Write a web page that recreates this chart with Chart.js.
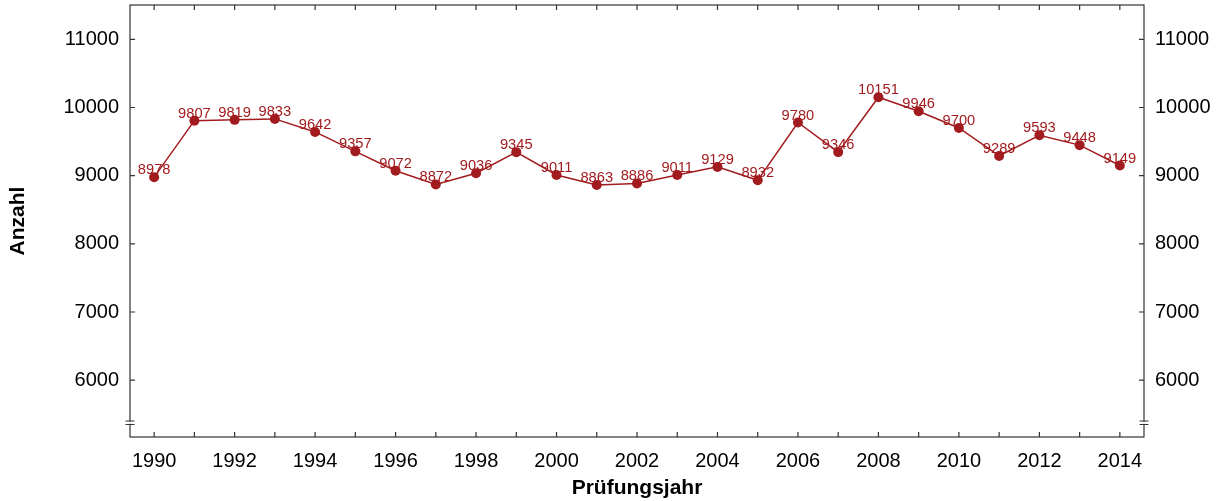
<!DOCTYPE html>
<html>
<head>
<meta charset="utf-8">
<script src="https://cdn.jsdelivr.net/npm/chart.js@4"></script>
<style>
  html, body { margin: 0; padding: 0; background: #fff; }
  #wrap { width: 1224px; height: 501px; }
</style>
</head>
<body>
<div id="wrap"><canvas id="anzahlChart" width="1224" height="501"></canvas></div>
<script>
const years = [1990, 1991, 1992, 1993, 1994, 1995, 1996, 1997, 1998, 1999, 2000, 2001, 2002,
               2003, 2004, 2005, 2006, 2007, 2008, 2009, 2010, 2011, 2012, 2013, 2014];
const anzahl = [8978, 9807, 9819, 9833, 9642, 9357, 9072, 8872, 9036, 9345, 9011, 8863, 8886,
                9011, 9129, 8932, 9780, 9346, 10151, 9946, 9700, 9289, 9593, 9448, 9149];
const xTickLabels = [1990, 1992, 1994, 1996, 1998, 2000, 2002, 2004, 2006, 2008, 2010, 2012, 2014];
const yTickLabels = [6000, 7000, 8000, 9000, 10000, 11000];

const red = '#a21c1f';
const axisCol = '#333';

// Rahmen, nach innen zeigende Ticks und Achsenbruch
const framePlugin = {
    id: 'frame',
    afterDraw(chart) {
        const { ctx, chartArea: a, scales } = chart;
        ctx.save();
        ctx.strokeStyle = axisCol;
        ctx.lineWidth = 1.2;
        ctx.strokeRect(a.left, a.top, a.right - a.left, a.bottom - a.top);
        ctx.beginPath();
        years.forEach(y => {
            const px = scales.x.getPixelForValue(y);
            ctx.moveTo(px, a.bottom); ctx.lineTo(px, a.bottom - 5);
            ctx.moveTo(px, a.top); ctx.lineTo(px, a.top + 5);
        });
        yTickLabels.forEach(v => {
            const py = scales.y.getPixelForValue(v);
            ctx.moveTo(a.left, py); ctx.lineTo(a.left + 5, py);
            ctx.moveTo(a.right, py); ctx.lineTo(a.right - 5, py);
        });
        ctx.stroke();
        // Achsenbruch
        const b1 = a.bottom - 16, b2 = a.bottom - 12.5;
        [a.left, a.right].forEach(x => {
            ctx.fillStyle = '#fff';
            ctx.fillRect(x - 2, b1 + 0.8, 4, b2 - b1 - 1.6);
            ctx.beginPath();
            ctx.moveTo(x - 4.5, b1); ctx.lineTo(x + 4.5, b1);
            ctx.moveTo(x - 4.5, b2); ctx.lineTo(x + 4.5, b2);
            ctx.stroke();
        });
        ctx.restore();
    }
};

// Werte ueber den Punkten
const labelPlugin = {
    id: 'valueLabels',
    afterDatasetsDraw(chart) {
        const ctx = chart.ctx;
        const meta = chart.getDatasetMeta(0);
        ctx.save();
        ctx.font = '14.7px "Liberation Sans", Arial, sans-serif';
        ctx.fillStyle = red;
        ctx.textAlign = 'center';
        ctx.textBaseline = 'alphabetic';
        meta.data.forEach((p, i) => {
            ctx.fillText(String(anzahl[i]), p.x, p.y - 3);
        });
        ctx.restore();
    }
};

const tickFont = { family: '"Liberation Sans", Arial, sans-serif', size: 20 };
const titleFont = { family: '"Liberation Sans", Arial, sans-serif', size: 21, weight: 'bold' };

function fixY(width) {
    return s => {
        s.width = width;
        s.paddingTop = 0;
        s.paddingBottom = 0;
    };
}

const ctx = document.getElementById('anzahlChart').getContext('2d');
const anzahlChart = new Chart(ctx, {
    type: 'line',
    data: {
        datasets: [{
            data: years.map((y, i) => ({ x: y, y: anzahl[i] })),
            borderColor: red,
            backgroundColor: red,
            borderWidth: 1.5,
            pointRadius: 5,
            pointHoverRadius: 5,
            pointBorderWidth: 0,
            tension: 0
        }]
    },
    options: {
        responsive: false,
        animation: false,
        layout: { padding: { top: 5, left: 0, right: 0, bottom: 0 } },
        plugins: {
            legend: { display: false },
            tooltip: { enabled: false }
        },
        scales: {
            x: {
                type: 'linear',
                min: 1989.4,
                max: 2014.6,
                afterBuildTicks: s => { s.ticks = xTickLabels.map(v => ({ value: v })); },
                afterFit: s => { s.height = 64; s.paddingLeft = 0; s.paddingRight = 0; },
                ticks: {
                    color: '#000', font: tickFont, padding: 12, maxRotation: 0,
                    autoSkip: false, callback: v => String(v)
                },
                grid: { display: false, drawTicks: false },
                border: { display: false },
                title: { display: true, text: 'Prüfungsjahr', color: '#000', font: titleFont, padding: { top: 0, bottom: 0 } }
            },
            y: {
                position: 'left',
                min: 5166,
                max: 11504,
                afterBuildTicks: s => { s.ticks = yTickLabels.map(v => ({ value: v })); },
                afterFit: fixY(130),
                ticks: { color: '#000', font: tickFont, padding: 11, callback: v => String(v) },
                grid: { display: false, drawTicks: false },
                border: { display: false },
                title: { display: true, text: 'Anzahl', color: '#000', font: titleFont, padding: { top: 6, bottom: 0 } }
            },
            y2: {
                position: 'right',
                min: 5166,
                max: 11504,
                afterBuildTicks: s => { s.ticks = yTickLabels.map(v => ({ value: v })); },
                afterFit: fixY(80),
                ticks: { color: '#000', font: tickFont, padding: 11, callback: v => String(v) },
                grid: { display: false, drawTicks: false },
                border: { display: false }
            }
        }
    },
    plugins: [framePlugin, labelPlugin]
});
</script>
</body>
</html>
